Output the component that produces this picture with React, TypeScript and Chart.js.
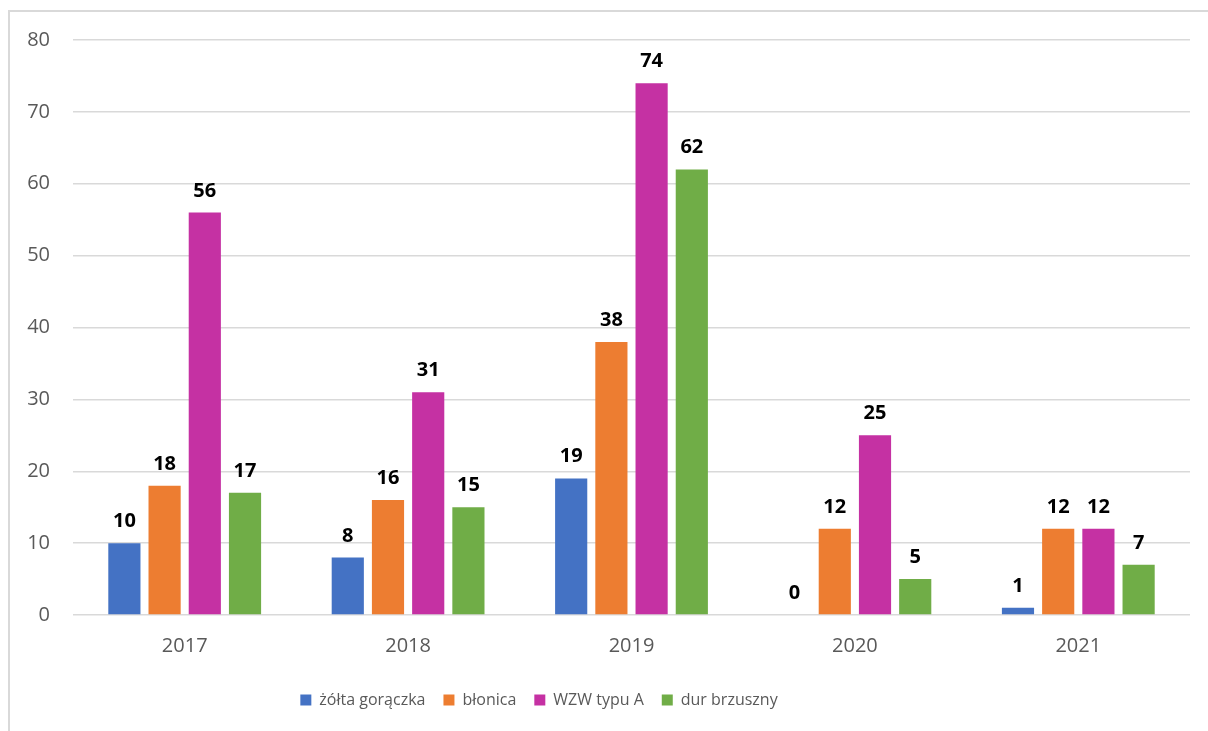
import React, { useEffect, useRef } from "react";
import { Chart, registerables } from "chart.js";

Chart.register(...registerables);

const categories = ["2017", "2018", "2019", "2020", "2021"];
const seriesNames = ["żółta gorączka", "błonica", "WZW typu A", "dur brzuszny"];
const zoltaGoraczka = [10, 8, 19, 0, 1];
const blonica = [18, 16, 38, 12, 12];
const wzwTypuA = [56, 31, 74, 25, 12];
const durBrzuszny = [17, 15, 62, 5, 7];
const colors = ["#4472C4", "#ED7D31", "#C531A3", "#70AD47"];
const yTicks = [0, 10, 20, 30, 40, 50, 60, 70, 80];

const FONT = "'Open Sans', 'Noto Sans', sans-serif";

const valueLabels = {
  id: "valueLabels",
  afterDatasetsDraw(chart: any) {
    const ctx = chart.ctx;
    ctx.save();
    ctx.fillStyle = "#000000";
    ctx.font = `bold 20px ${FONT}`;
    ctx.textAlign = "center";
    ctx.textBaseline = "alphabetic";
    chart.data.datasets.forEach((ds: any, i: number) => {
      const meta = chart.getDatasetMeta(i);
      meta.data.forEach((el: any, j: number) => {
        ctx.fillText(String(ds.data[j]), el.x, el.y - 16);
      });
    });
    ctx.restore();
  },
};

const legendShift = {
  id: "legendShift",
  afterLayout(chart: any) {
    const l = chart.legend;
    if (l) {
      l.left -= 61;
      l.right -= 61;
    }
  },
};

export default function App() {
  const ref = useRef<HTMLCanvasElement>(null);
  useEffect(() => {
    const values = [zoltaGoraczka, blonica, wzwTypuA, durBrzuszny];
    const chart = new Chart(ref.current as HTMLCanvasElement, {
      type: "bar",
      data: {
        labels: categories,
        datasets: seriesNames.map((name, i) => ({
          label: name,
          data: values[i],
          backgroundColor: colors[i],
          categoryPercentage: 0.72,
          barPercentage: 0.8,
        })),
      },
      options: {
        animation: false,
        responsive: false,
        maintainAspectRatio: false,
        layout: { padding: { left: 0, right: 18, top: 28, bottom: 13 } },
        plugins: {
          tooltip: { enabled: false },
          legend: {
            position: "bottom",
            labels: {
              boxWidth: 11,
              boxHeight: 11,
              padding: 18,
              color: "#595959",
              font: { family: FONT, size: 16 },
            },
          },
        },
        scales: {
          x: {
            grid: { display: false },
            border: { display: false },
            ticks: {
              color: "#595959",
              font: { family: FONT, size: 20 },
              padding: 11,
            },
            afterFit(scale: any) {
              scale.height = 59;
            },
          },
          y: {
            min: 0,
            max: 80,
            afterBuildTicks(scale: any) {
              scale.ticks = yTicks.map((v) => ({ value: v }));
            },
            grid: { color: "#d9d9d9", lineWidth: 1.5, drawTicks: false },
            border: { display: false },
            ticks: {
              color: "#595959",
              font: { family: FONT, size: 20 },
              padding: 23,
            },
            afterFit(scale: any) {
              scale.width = 63;
              scale.paddingTop = 0;
              scale.paddingBottom = 0;
            },
          },
        },
      },
      plugins: [valueLabels, legendShift],
    });
    return () => chart.destroy();
  }, []);

  return (
    <div
      style={{
        position: "absolute",
        left: 8,
        top: 10,
        borderLeft: "2px solid #d9d9d9",
        borderTop: "2px solid #d9d9d9",
        background: "#fff",
      }}
    >
      <canvas ref={ref} width={1198} height={719} style={{ display: "block" }} />
    </div>
  );
}
